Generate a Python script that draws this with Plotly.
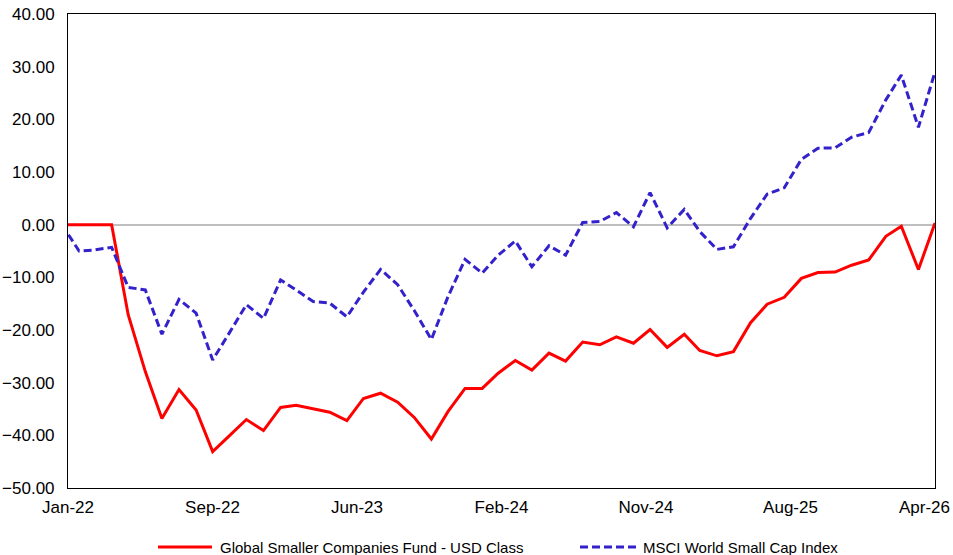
import pandas as pd
import plotly.graph_objects as go

# Month-end observation dates (Dec-21 .. Apr-26)
dates = pd.date_range("2021-12-31", "2026-04-30", freq="ME")

fund_name = "Global Smaller Companies Fund - USD Class"
index_name = "MSCI World Small Cap Index"

fund = [0, 0, 0, 0, -17.1, -27.9, -36.8, -31.3, -35.2, -43.1,
        -40.0, -37.0, -39.1, -34.7, -34.3, -35.0, -35.6, -37.2, -33.0, -32.0,
        -33.7, -36.6, -40.7, -35.5, -31.1, -31.1, -28.2, -25.8, -27.6, -24.4,
        -25.9, -22.3, -22.8, -21.3, -22.5, -19.9, -23.3, -20.8, -23.9, -24.9,
        -24.1, -18.6, -15.1, -13.8, -10.2, -9.1, -9.0, -7.7, -6.7, -2.2,
        -0.3, -8.5, 0.3]

index = [0, -5.0, -4.8, -4.3, -11.9, -12.4, -20.8, -14.2, -16.8, -25.7,
         -20.4, -15.2, -17.8, -10.5, -12.4, -14.6, -14.9, -17.5, -12.8, -8.5,
         -11.4, -16.3, -21.8, -13.7, -6.6, -9.2, -5.8, -3.1, -8.0, -4.0,
         -5.8, 0.4, 0.6, 2.3, -0.4, 6.1, -0.6, 2.9, -1.3, -4.7,
         -4.2, 1.2, 5.8, 7.0, 12.4, 14.5, 14.6, 16.6, 17.5, 23.7,
         28.4, 18.5, 29.0]

tick_labels = ["Jan-22", "Sep-22", "Jun-23", "Feb-24", "Nov-24", "Aug-25", "Apr-26"]

x_start = pd.Timestamp("2022-01-11")
x_end = pd.Timestamp("2026-04-30")
step = (x_end - x_start) / (len(tick_labels) - 1)
tick_vals = [x_start + i * step for i in range(len(tick_labels))]
tick_vals[0] = tick_vals[0] + pd.Timedelta(hours=1)
tick_vals[-1] = tick_vals[-1] - pd.Timedelta(hours=1)

RED = "#FF0000"
BLUE = "#3322CC"
BLUE_DASH = "8px,4px"

fig = go.Figure()
fig.add_trace(go.Scatter(
    x=dates, y=fund, mode="lines", name=fund_name,
    line=dict(color=RED, width=3), showlegend=False,
))
fig.add_trace(go.Scatter(
    x=dates, y=index, mode="lines", name=index_name,
    line=dict(color=BLUE, width=3, dash=BLUE_DASH), showlegend=False,
))

font_family = "Liberation Sans, Arial, sans-serif"

# Legend drawn below the plot (paper coordinates)
L, R, T, B = 68, 935, 14, 488
W, H = R - L, B - T
def px(x):
    return (x - L) / W
def py(y):
    return (B - y) / H

leg_y = py(547)
legend_items = [
    (fund_name, RED, "solid", 158, 212, 218),
    (index_name, BLUE, BLUE_DASH, 580, 636, 641),
]
for name, color, dash, x0, x1, xt in legend_items:
    fig.add_shape(type="line", xref="paper", yref="paper",
                  x0=px(x0), x1=px(x1), y0=leg_y, y1=leg_y,
                  line=dict(color=color, width=3, dash=dash))
    fig.add_annotation(xref="paper", yref="paper", x=px(xt), y=leg_y,
                       text=name, showarrow=False, xanchor="left", yanchor="middle",
                       font=dict(size=15, color="black"))

# Last x label is nudged left so it stays inside the picture (as in the reference)
shown_labels = tick_labels[:-1] + [""]
fig.add_annotation(xref="paper", yref="paper", x=px(952), y=py(507),
                   text=tick_labels[-1], showarrow=False,
                   xanchor="right", yanchor="middle",
                   font=dict(size=17, color="black"))

fig.update_layout(
    width=953, height=555,
    margin=dict(l=L, r=953 - R, t=T, b=555 - B, autoexpand=False),
    paper_bgcolor="white", plot_bgcolor="white",
    font=dict(family=font_family, size=17, color="black"),
    showlegend=False,
)
fig.update_xaxes(
    type="date", range=[x_start, x_end],
    tickvals=tick_vals, ticktext=shown_labels,
    showgrid=False, zeroline=False,
    showline=True, linecolor="black", linewidth=1, mirror=True,
    ticks="", ticklabelstandoff=4, ticklabeloverflow="allow",
)
fig.update_yaxes(
    range=[-50, 40], dtick=10, tick0=0, tickformat=".2f",
    showgrid=False, zeroline=True, zerolinecolor="#BFBFBF", zerolinewidth=1.5,
    showline=True, linecolor="black", linewidth=1, mirror=True,
    ticks="", ticklabelstandoff=9, ticklabeloverflow="allow",
)

fig.write_html("out.html")
